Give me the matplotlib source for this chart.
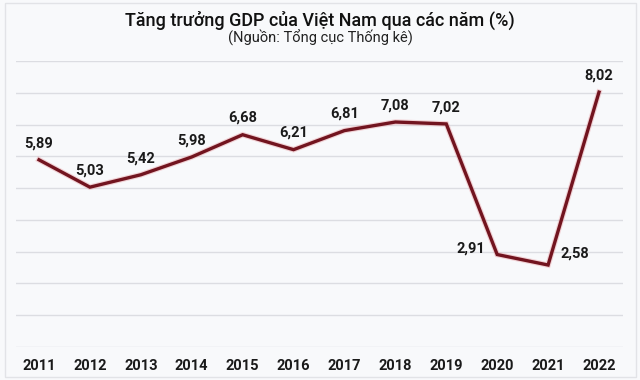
import matplotlib
matplotlib.use("Agg")
import matplotlib.pyplot as plt
import matplotlib.patheffects as pe

years = ["2011", "2012", "2013", "2014", "2015", "2016", "2017", "2018", "2019", "2020", "2021", "2022"]
gdp = [5.89, 5.03, 5.42, 5.98, 6.68, 6.21, 6.81, 7.08, 7.02, 2.91, 2.58, 8.02]
labels = ["5,89", "5,03", "5,42", "5,98", "6,68", "6,21", "6,81", "7,08", "7,02", "2,91", "2,58", "8,02"]
title = "Tăng trưởng GDP của Việt Nam qua các năm (%)"
subtitle = "(Nguồn: Tổng cục Thống kê)"

plt.rcParams['font.family'] = ['Roboto', 'DejaVu Sans']

W, H = 640, 380
fig = plt.figure(figsize=(W / 100, H / 100), dpi=100)
bg = '#f8f9fb'
fig.patch.set_facecolor(bg)

# axes spanning gridline extents
left_px, right_px, top_px, bot_px = 16, 623, 61, 347
ax = fig.add_axes([left_px / W, 1 - bot_px / H, (right_px - left_px) / W, (bot_px - top_px) / H])
ax.set_facecolor(bg)

x = list(range(len(years)))
ax.plot(x, gdp, color='#72141f', lw=2.4, solid_joinstyle='miter', zorder=3,
        path_effects=[pe.Stroke(linewidth=4.0, foreground='#e9a3a8', alpha=0.45), pe.Normal()])

step = 50.9
ax.set_xlim(-(39 - left_px) / step, 11 + (right_px - 599) / step)
ax.set_ylim(0, 9)
ax.set_yticks(range(0, 10))
ax.yaxis.grid(True, color='#dcdde2', lw=1.0)
ax.set_axisbelow(True)
ax.tick_params(axis='y', left=False, labelleft=False)
ax.set_xticks(x)
ax.set_xticklabels(years, fontsize=10.5, fontweight='bold', color='#1a1a1a')
ax.tick_params(axis='x', length=0, pad=9)
for s in ax.spines.values():
    s.set_visible(False)

offsets = {9: (-19, 4), 10: (19, 8)}
for i, (v, lab) in enumerate(zip(gdp, labels)):
    dx, dy = offsets.get(i, (0, 12))
    ax.annotate(lab, (i, v), xytext=(dx, dy), textcoords='offset points',
                ha='center', va='center', fontsize=10.5, fontweight='bold', color='#1a1a1a',
                annotation_clip=False)

fig.text(0.5, 1 - 20 / H, title, ha='center', va='center', fontsize=13, fontweight='medium', color='#111111')
fig.text(0.5, 1 - 38 / H, subtitle, ha='center', va='center', fontsize=10.5, color='#222222')

# faint frame
frame = plt.Rectangle((5 / W, 3 / H), (636 - 5) / W, (377 - 3) / H, transform=fig.transFigure,
                      fill=False, edgecolor='#e2e3e7', lw=1.0)
fig.add_artist(frame)

fig.savefig('out.png', dpi=100, facecolor=fig.get_facecolor())
